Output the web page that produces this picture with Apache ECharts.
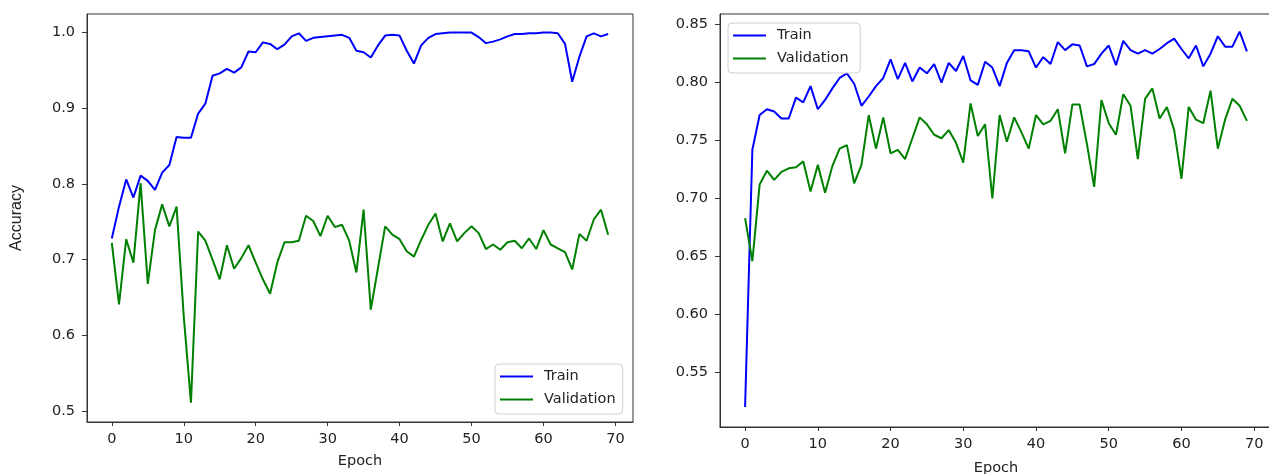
<!DOCTYPE html>
<html><head><meta charset="utf-8">
<script src="https://cdn.jsdelivr.net/npm/echarts@6/dist/echarts.min.js"></script>
<style>html,body{margin:0;padding:0;background:#fff}#c{width:1269px;height:474px}</style>
</head><body><div id="c"></div>
<script>
const epochs = Array.from({length:70},(_,i)=>i);
const leftTrain = [0.728,0.770,0.806,0.782,0.811,0.804,0.792,0.815,0.825,0.862,0.861,0.861,0.893,0.906,0.943,0.946,0.952,0.947,0.954,0.975,
0.974,0.987,0.985,0.978,0.984,0.995,0.999,0.989,0.993,0.994,0.995,0.996,0.997,0.993,0.976,0.974,0.967,0.983,0.996,0.997,
0.996,0.976,0.959,0.983,0.993,0.998,0.999,1.0,1.0,1.0,1.0,0.994,0.986,0.988,0.991,0.995,0.998,0.998,0.999,0.999,
1.0,1.0,0.999,0.985,0.935,0.968,0.995,0.999,0.995,0.998];
const leftVal = [0.722,0.641,0.727,0.696,0.801,0.668,0.739,0.773,0.744,0.770,0.625,0.511,0.737,0.725,0.700,0.674,0.719,0.688,0.702,0.719,
0.696,0.674,0.655,0.696,0.723,0.723,0.725,0.758,0.751,0.731,0.758,0.743,0.746,0.725,0.683,0.766,0.634,0.689,0.744,0.733,
0.727,0.711,0.704,0.726,0.746,0.761,0.724,0.748,0.724,0.735,0.744,0.735,0.714,0.720,0.713,0.723,0.725,0.715,0.728,0.714,
0.739,0.720,0.715,0.710,0.687,0.734,0.725,0.753,0.766,0.733];
const rightTrain = [0.520,0.742,0.772,0.777,0.775,0.769,0.769,0.787,0.783,0.797,0.777,0.785,0.795,0.804,0.808,0.799,0.780,0.788,0.797,0.804,
0.820,0.803,0.817,0.801,0.813,0.808,0.816,0.800,0.817,0.810,0.823,0.802,0.798,0.818,0.813,0.797,0.817,0.828,0.828,0.827,
0.813,0.822,0.816,0.835,0.828,0.833,0.832,0.814,0.816,0.825,0.832,0.815,0.836,0.828,0.825,0.828,0.825,0.829,0.834,0.838,
0.829,0.821,0.832,0.814,0.825,0.840,0.831,0.831,0.844,0.827];
const rightVal = [0.683,0.646,0.712,0.724,0.716,0.723,0.726,0.727,0.732,0.706,0.729,0.705,0.728,0.743,0.746,0.713,0.729,0.772,0.743,0.770,
0.739,0.742,0.734,0.752,0.770,0.764,0.755,0.752,0.759,0.748,0.731,0.782,0.754,0.764,0.700,0.772,0.749,0.770,0.757,0.743,
0.772,0.764,0.767,0.777,0.739,0.781,0.781,0.747,0.710,0.785,0.765,0.755,0.790,0.780,0.734,0.786,0.795,0.769,0.779,0.759,
0.717,0.779,0.768,0.765,0.793,0.743,0.768,0.786,0.780,0.767];
const xTicks = [0,10,20,30,40,50,60,70];
const leftYTicks = [0.5,0.6,0.7,0.8,0.9,1.0];
const rightYTicks = [0.55,0.60,0.65,0.70,0.75,0.80,0.85];

const FONT = 'DejaVu Sans';
const FS = 14.5;
const pairs = a => a.map((v,i)=>[epochs[i], v]);
function xAx(idx, nameGap){
  return {type:'value', gridIndex:idx, min:-3.45, max:72.45, name:'Epoch', nameLocation:'middle', nameGap:nameGap,
    nameTextStyle:{fontFamily:FONT,fontSize:FS,color:'#222'},
    axisLine:{show:true,onZero:false,lineStyle:{color:'#333',width:1}},
    axisTick:{show:true,length:4,customValues:xTicks,lineStyle:{color:'#333'}},
    axisLabel:{customValues:xTicks,fontFamily:FONT,fontSize:FS,color:'#222',margin:10},
    splitLine:{show:false}};
}
function yAx(idx, min, max, ticks, fmt, name){
  const o = {type:'value', gridIndex:idx, min:min, max:max,
    axisLine:{show:true,onZero:false,lineStyle:{color:'#333',width:1}},
    axisTick:{show:true,length:5,customValues:ticks,lineStyle:{color:'#333'}},
    axisLabel:{customValues:ticks,fontFamily:FONT,fontSize:FS,color:'#222',margin:12,formatter:v=>v.toFixed(fmt)},
    splitLine:{show:false}};
  if(name){o.name=name;o.nameLocation='middle';o.nameGap=62;o.nameTextStyle={fontFamily:'Liberation Sans',fontSize:16,color:'#222'};}
  return o;
}
function ser(name, data, color, xi){
  return {type:'line', name:name, data:pairs(data), xAxisIndex:xi, yAxisIndex:xi, symbol:'none',
    lineStyle:{color:color,width:2}, itemStyle:{color:color}, animation:false, z:3};
}
const legendCommon = {orient:'vertical', icon:'rect', itemWidth:33, itemHeight:2, itemGap:6,
  textStyle:{fontFamily:FONT,fontSize:FS,color:'#222',padding:[0,0,0,6],lineHeight:17}, borderColor:'#d0d0d0', borderWidth:1, borderRadius:4,
  backgroundColor:'rgba(255,255,255,0.8)', padding:[4,7,6,5]};
const chart = echarts.init(document.getElementById('c'));
chart.setOption({
  animation:false,
  backgroundColor:'#fff',
  grid:[
    {left:87, top:14, width:546, height:408, show:true, borderColor:'#333', borderWidth:1, backgroundColor:'transparent', outerBoundsMode:'none', containLabel:false},
    {left:720, top:14, width:552, height:413, show:true, borderColor:'#333', borderWidth:1, backgroundColor:'transparent', outerBoundsMode:'none', containLabel:false}
  ],
  xAxis:[xAx(0,32), xAx(1,34)],
  yAxis:[yAx(0,0.4855,1.0245,leftYTicks,1,'Accuracy'), yAx(1,0.5028,0.8592,rightYTicks,2,null)],
  legend:[
    Object.assign({}, legendCommon, {left:495, top:364, data:['Train','Validation']}),
    Object.assign({}, legendCommon, {left:728, top:23, data:['Train ','Validation ']})
  ],
  series:[
    ser('Train', leftTrain, '#0000ff', 0),
    ser('Validation', leftVal, '#008000', 0),
    ser('Train ', rightTrain, '#0000ff', 1),
    ser('Validation ', rightVal, '#008000', 1)
  ]
});
</script></body></html>
